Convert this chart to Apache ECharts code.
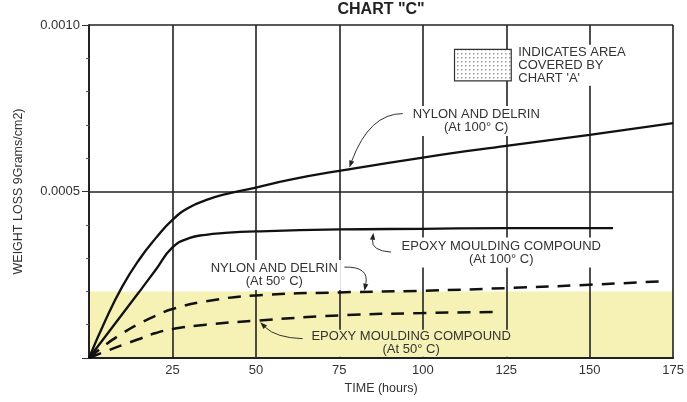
<!DOCTYPE html>
<html><head><meta charset="utf-8">
<script src="https://cdn.jsdelivr.net/npm/echarts@6/dist/echarts.min.js"></script>
<style>html,body{margin:0;padding:0;background:#fff}#c{width:687px;height:402px}</style>
</head><body><div id="c"></div>
<script>
// ---- data ----
const timeTicks = [0, 25, 50, 75, 100, 125, 150, 175];
const weightTicks = [0, 0.0005, 0.0010];
const weightTickLabels = ['', '0.0005', '0.0010'];

const nylon100Time = [0, 5, 10, 15, 20, 25, 30, 35, 40, 50, 60, 75, 100, 125, 150, 175];
const nylon100Loss = [0, 0.000115, 0.000215, 0.000295, 0.00036, 0.000415, 0.000452, 0.000474, 0.00049, 0.000512, 0.000535, 0.000562, 0.000602, 0.000637, 0.00067, 0.000705];

const epoxy100Time = [0, 5, 10, 15, 20, 25, 30, 35, 40, 50, 75, 100, 125, 157];
const epoxy100Loss = [0, 0.000066, 0.000132, 0.000198, 0.000265, 0.000332, 0.00036, 0.00037, 0.000375, 0.00038, 0.000386, 0.000388, 0.00039, 0.00039];

const nylon50Time = [0, 5, 10, 15, 20, 25, 35, 50, 75, 100, 125, 150, 171];
const nylon50Loss = [0, 0.00004, 0.000074, 0.000103, 0.000127, 0.000147, 0.00017, 0.000188, 0.000197, 0.000202, 0.00021, 0.00022, 0.00023];

const epoxy50Time = [0, 5, 10, 15, 20, 25, 35, 50, 75, 100, 122];
const epoxy50Loss = [0, 0.00002, 0.000039, 0.000057, 0.000075, 0.000087, 0.0001, 0.000112, 0.000128, 0.000135, 0.000138];

const chartATimeRange = [0, 175];
const chartALossRange = [0, 0.0002];

// ---- annotations (data coordinates) ----
const notes = [
  {lines: ['NYLON AND DELRIN', '(At 100° C)'], at: [116, 0.000712], bg: '#fff', pad: [2, 3],
   arrow: {from: [94, 0.000734], ctrl: [84, 0.000734], to: [78, 0.000572]}},
  {lines: ['EPOXY MOULDING COMPOUND', '(At 100° C)'], at: [123.5, 0.000317], bg: '#fff', pad: [2, 3],
   arrow: {from: [90.5, 0.000318], ctrl: [84.5, 0.000322], to: [85.2, 0.000376]}},
  {lines: ['NYLON AND DELRIN', '(At 50° C)'], at: [55.5, 0.000249], bg: '#fff', pad: [2, 3],
   arrow: {from: [76.5, 0.000273], ctrl: [84, 0.000275], to: [82.5, 0.000202]}},
  {lines: ['EPOXY MOULDING COMPOUND', '(At 50° C)'], at: [96.5, 0.000044], bg: '#f6f1b4', pad: [1, 3, 0, 3],
   arrow: {from: [64, 0.000058], ctrl: [56, 0.000061], to: [51.3, 0.000107]}}
];
const legendNote = {box: [[109.5, 0.000927], [126.5, 0.000832]], text: ['INDICATES AREA', 'COVERED BY', "CHART 'A'"]};

const FONT = 'Liberation Sans';
const zip = (a, b) => a.map((v, i) => [v, b[i]]);

const chart = echarts.init(document.getElementById('c'), null, {renderer: 'canvas'});

const lineBase = {type: 'line', symbol: 'none', smooth: 0.5, z: 3, silent: true};
chart.setOption({
  animation: false,
  backgroundColor: '#fff',
  grid: {left: 89, right: 8, top: 25, bottom: 44},
  xAxis: {
    type: 'value', min: timeTicks[0], max: timeTicks[timeTicks.length - 1], interval: 25, z: 2,
    axisLine: {show: true, lineStyle: {color: '#222', width: 2}},
    axisTick: {show: false},
    axisLabel: {color: '#333', fontFamily: FONT, fontSize: 13, margin: 6,
      formatter: v => (v === 0 ? '' : String(v))},
    splitLine: {show: true, lineStyle: {color: '#222', width: 1.6}},
    name: 'TIME (hours)', nameLocation: 'middle', nameGap: 20,
    nameTextStyle: {color: '#333', fontFamily: FONT, fontSize: 12.5}
  },
  yAxis: {
    type: 'value', min: 0, max: 0.001, interval: 0.0005, z: 2,
    axisLine: {show: true, onZero: false, lineStyle: {color: '#222', width: 2}},
    axisTick: {show: true, length: 7, lineStyle: {color: '#333', width: 1}},
    minorTick: {show: true, splitNumber: 5, length: 3, lineStyle: {color: '#555', width: 1}},
    axisLabel: {color: '#333', fontFamily: FONT, fontSize: 13, margin: 9,
      formatter: v => weightTickLabels[weightTicks.findIndex(t => Math.abs(t - v) < 1e-9)] || ''},
    splitLine: {show: true, lineStyle: {color: '#222', width: 1.6}},
    name: 'WEIGHT LOSS 9Grams/cm2)', nameLocation: 'middle', nameGap: 64, nameRotate: 90,
    nameTextStyle: {color: '#333', fontFamily: FONT, fontSize: 12.5}
  },
  series: [
    {type: 'line', data: [], z: 1, silent: true,
     markArea: {silent: true, itemStyle: {color: '#f6f1b4'},
       data: [[{coord: [chartATimeRange[0], chartALossRange[0]]}, {coord: [chartATimeRange[1], chartALossRange[1]]}]]}},
    Object.assign({}, lineBase, {data: zip(nylon100Time, nylon100Loss), lineStyle: {color: '#111', width: 2.3}}),
    Object.assign({}, lineBase, {data: zip(epoxy100Time, epoxy100Loss), lineStyle: {color: '#111', width: 2.3}}),
    Object.assign({}, lineBase, {data: zip(nylon50Time, nylon50Loss), lineStyle: {color: '#111', width: 2.5, type: [13, 9]}}),
    Object.assign({}, lineBase, {data: zip(epoxy50Time, epoxy50Loss), lineStyle: {color: '#111', width: 2.5, type: [13, 9]}})
  ]
});

const px = p => chart.convertToPixel({gridIndex: 0}, p);

function arrowEls(a) {
  const s = px(a.from), c = px(a.ctrl), e = px(a.to);
  const dx = e[0] - c[0], dy = e[1] - c[1], L = Math.hypot(dx, dy) || 1;
  const ux = dx / L, uy = dy / L, hl = 7, hw = 2.6;
  const bx = e[0] - ux * hl, by = e[1] - uy * hl;
  return [
    {type: 'bezierCurve', z: 20, silent: true,
     shape: {x1: s[0], y1: s[1], x2: bx, y2: by, cpx1: c[0], cpy1: c[1]},
     style: {stroke: '#333', lineWidth: 1, fill: null}},
    {type: 'polygon', z: 20, silent: true,
     shape: {points: [e, [bx - uy * hw, by + ux * hw], [bx + uy * hw, by - ux * hw]]},
     style: {fill: '#222'}}
  ];
}

const els = [];
const top0 = px([87.5, 0.001]);
els.push({type: 'text', z: 20, silent: true, x: top0[0], y: 2,
  style: {text: 'CHART "C"', font: 'bold 16px "' + FONT + '"', fill: '#222', align: 'center', verticalAlign: 'top'}});

notes.forEach(n => {
  const p = px(n.at);
  els.push({type: 'text', z: 20, silent: true, x: p[0], y: p[1],
    style: {text: n.lines.join('\n'), font: '13px "' + FONT + '"', fill: '#333', align: 'center', verticalAlign: 'middle',
      lineHeight: 13, backgroundColor: n.bg, padding: n.pad}});
  els.push(...arrowEls(n.arrow));
});

const pc = document.createElement('canvas'); pc.width = 4; pc.height = 4;
const g = pc.getContext('2d'); g.fillStyle = '#fff'; g.fillRect(0, 0, 4, 4);
g.fillStyle = '#9a9a9a'; g.fillRect(1, 1, 1.5, 1.5);
const b0 = px(legendNote.box[0]), b1 = px(legendNote.box[1]);
els.push({type: 'rect', z: 20, silent: true,
  shape: {x: b0[0], y: b0[1], width: b1[0] - b0[0], height: b1[1] - b0[1]},
  style: {fill: {image: pc, repeat: 'repeat'}, stroke: '#333', lineWidth: 1.2}});
els.push({type: 'text', z: 20, silent: true, x: b1[0] + 5, y: (b0[1] + b1[1]) / 2,
  style: {text: legendNote.text.join('\n'), font: '13px "' + FONT + '"', fill: '#333', align: 'left', verticalAlign: 'middle',
    lineHeight: 13, backgroundColor: '#fff', padding: [1, 2]}});

chart.setOption({graphic: {elements: els}});
</script>
</body></html>
